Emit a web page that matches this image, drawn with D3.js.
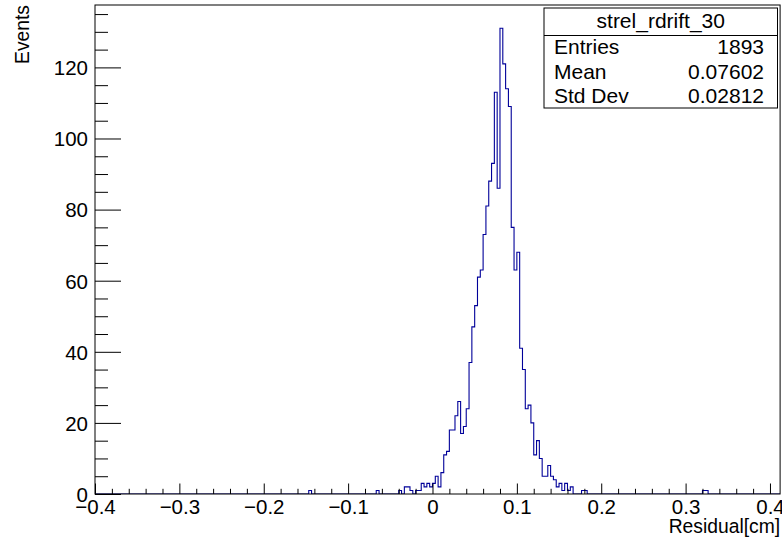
<!DOCTYPE html>
<html>
<head>
<meta charset="utf-8">
<script src="https://cdn.jsdelivr.net/npm/d3@7"></script>
<style>
  body { margin: 0; background: #fff; }
  svg { display: block; }
  text { font-family: "Liberation Sans", Arial, Helvetica, sans-serif; fill: #000; }
</style>
</head>
<body>
<svg id="chart" width="782" height="540"></svg>
<script>
// ---------------- data ----------------
const histName = "strel_rdrift_30";
const xMin = -0.4, xMax = 0.412, binWidth = 1 / 300;
const yMax = 137.55;
// non-empty bins: index of bin (counted from xMin) and content
const binIndex = [76, 100, 108, 110, 111, 112, 114, 115, 116, 117, 118, 119, 120, 121, 122, 123,
  124, 125, 126, 127, 128, 129, 130, 131, 132, 133, 134, 135, 136, 137, 138, 139, 140, 141,
  142, 143, 144, 145, 146, 147, 148, 149, 150, 151, 152, 153, 154, 155, 156, 157, 158, 159,
  160, 161, 162, 163, 164, 165, 166, 167, 168, 169, 173, 174, 216, 217];
const binCounts = [1, 1, 1, 2, 2, 1, 1, 1, 3, 2, 3, 2, 3, 5, 2, 6,
  11, 12, 18, 18, 22, 26, 17, 19, 24, 37, 47, 53, 61, 63, 73, 81, 88, 93,
  113, 86, 131, 121, 114, 109, 75, 63, 68, 41, 35, 24, 25, 20, 11, 15, 10, 5,
  5, 8, 5, 4, 2, 3, 1, 3, 1, 2, 1, 1, 1, 1];
const xTickValues = [-0.4, -0.3, -0.2, -0.1, 0, 0.1, 0.2, 0.3, 0.4];
const xTickLabels = ["\u22120.4", "\u22120.3", "\u22120.2", "\u22120.1", "0", "0.1", "0.2", "0.3", "0.4"];
const yTickValues = [0, 20, 40, 60, 80, 100, 120];
const yTickLabels = ["0", "20", "40", "60", "80", "100", "120"];
const statLabels = ["Entries", "Mean", "Std Dev"];
const statValues = ["1893", "0.07602", "0.02812"];
const xTitle = "Residual[cm]";
const yTitle = "Events";

// ---------------- layout ----------------
const L = 95, R = 780.1, T = 5, B = 494;
const svg = d3.select("#chart");
const x = d3.scaleLinear().domain([xMin, xMax]).range([L, R]);
const y = d3.scaleLinear().domain([0, yMax]).range([B, T]);

svg.append("rect").attr("width", 782).attr("height", 540).attr("fill", "#fff");

// clip
svg.append("clipPath").attr("id", "fr").append("rect")
  .attr("x", L).attr("y", T).attr("width", R - L).attr("height", B - T);

// histogram
const nBins = Math.floor((xMax - xMin) / binWidth);
const full = new Array(nBins).fill(0);
binIndex.forEach((k, i) => { full[k] = binCounts[i]; });
const pts = [[xMin, 0]];
full.forEach((c, k) => pts.push([xMin + k * binWidth, c]));
pts.push([xMin + nBins * binWidth, 0]);
pts.push([xMax, 0]);
const line = d3.line().x(d => x(d[0])).y(d => y(d[1])).curve(d3.curveStepAfter);
svg.append("path").attr("d", line(pts))
  .attr("fill", "none").attr("stroke", "#000099").attr("stroke-width", 1.1)
  .attr("clip-path", "url(#fr)");

// frame
svg.append("rect").attr("x", L).attr("y", T).attr("width", R - L).attr("height", B - T)
  .attr("fill", "none").attr("stroke", "#000").attr("stroke-width", 1);

const fontLab = 20.5;
// x axis major
const xAxis = d3.axisBottom(x).tickValues(xTickValues)
  .tickFormat((d, i) => xTickLabels[i]).tickSizeInner(-10.5).tickSizeOuter(0).tickPadding(5.5);
const gx = svg.append("g").attr("transform", `translate(0,${B})`).call(xAxis);
gx.select(".domain").remove();
gx.selectAll("text").attr("font-size", fontLab).attr("font-family", "Liberation Sans, Arial, sans-serif");
// x axis minor
const xMinor = d3.range(-20, 21).map(i => i * 0.02).filter(v => Math.abs(Math.round(v * 10) - v * 10) > 1e-6);
const gxm = svg.append("g").attr("transform", `translate(0,${B})`)
  .call(d3.axisBottom(x).tickValues(xMinor).tickFormat("").tickSizeInner(-5.2).tickSizeOuter(0));
gxm.select(".domain").remove();

// y axis major
const yAxis = d3.axisLeft(y).tickValues(yTickValues)
  .tickFormat((d, i) => yTickLabels[i]).tickSizeInner(-26).tickSizeOuter(0).tickPadding(7);
const gy = svg.append("g").attr("transform", `translate(${L},0)`).call(yAxis);
gy.select(".domain").remove();
gy.selectAll("text").attr("font-size", fontLab).attr("dy", "0.36em");
// y axis minor
const yMinor = d3.range(0, 28).map(i => i * 5).filter(v => v % 20 !== 0);
const gym = svg.append("g").attr("transform", `translate(${L},0)`)
  .call(d3.axisLeft(y).tickValues(yMinor).tickFormat("").tickSizeInner(-13).tickSizeOuter(0));
gym.select(".domain").remove();

svg.selectAll(".tick line").attr("stroke", "#000");

// axis titles
svg.append("text").attr("x", R).attr("y", 533).attr("text-anchor", "end")
  .attr("font-size", 19.3).text(xTitle);
svg.append("text").attr("transform", `translate(28.5,${T}) rotate(-90)`).attr("text-anchor", "end")
  .attr("font-size", 19.3).text(yTitle);

// stats box
const bx = 544, by = 8, bw = 233.5, bh = 100;
svg.append("rect").attr("x", bx).attr("y", by).attr("width", bw).attr("height", bh)
  .attr("fill", "#fff").attr("stroke", "#000").attr("stroke-width", 1);
svg.append("line").attr("x1", bx).attr("x2", bx + bw).attr("y1", 35.5).attr("y2", 35.5)
  .attr("stroke", "#000").attr("stroke-width", 1);
const fs = 21;
svg.append("text").attr("x", bx + bw / 2).attr("y", 27.5).attr("text-anchor", "middle")
  .attr("font-size", fs).text(histName);
const rowY = [54, 78.5, 103];
statLabels.forEach((s, i) => {
  svg.append("text").attr("x", 554).attr("y", rowY[i]).attr("font-size", fs).text(s);
  svg.append("text").attr("x", 764).attr("y", rowY[i]).attr("text-anchor", "end")
    .attr("font-size", fs).text(statValues[i]);
});
</script>
</body>
</html>
